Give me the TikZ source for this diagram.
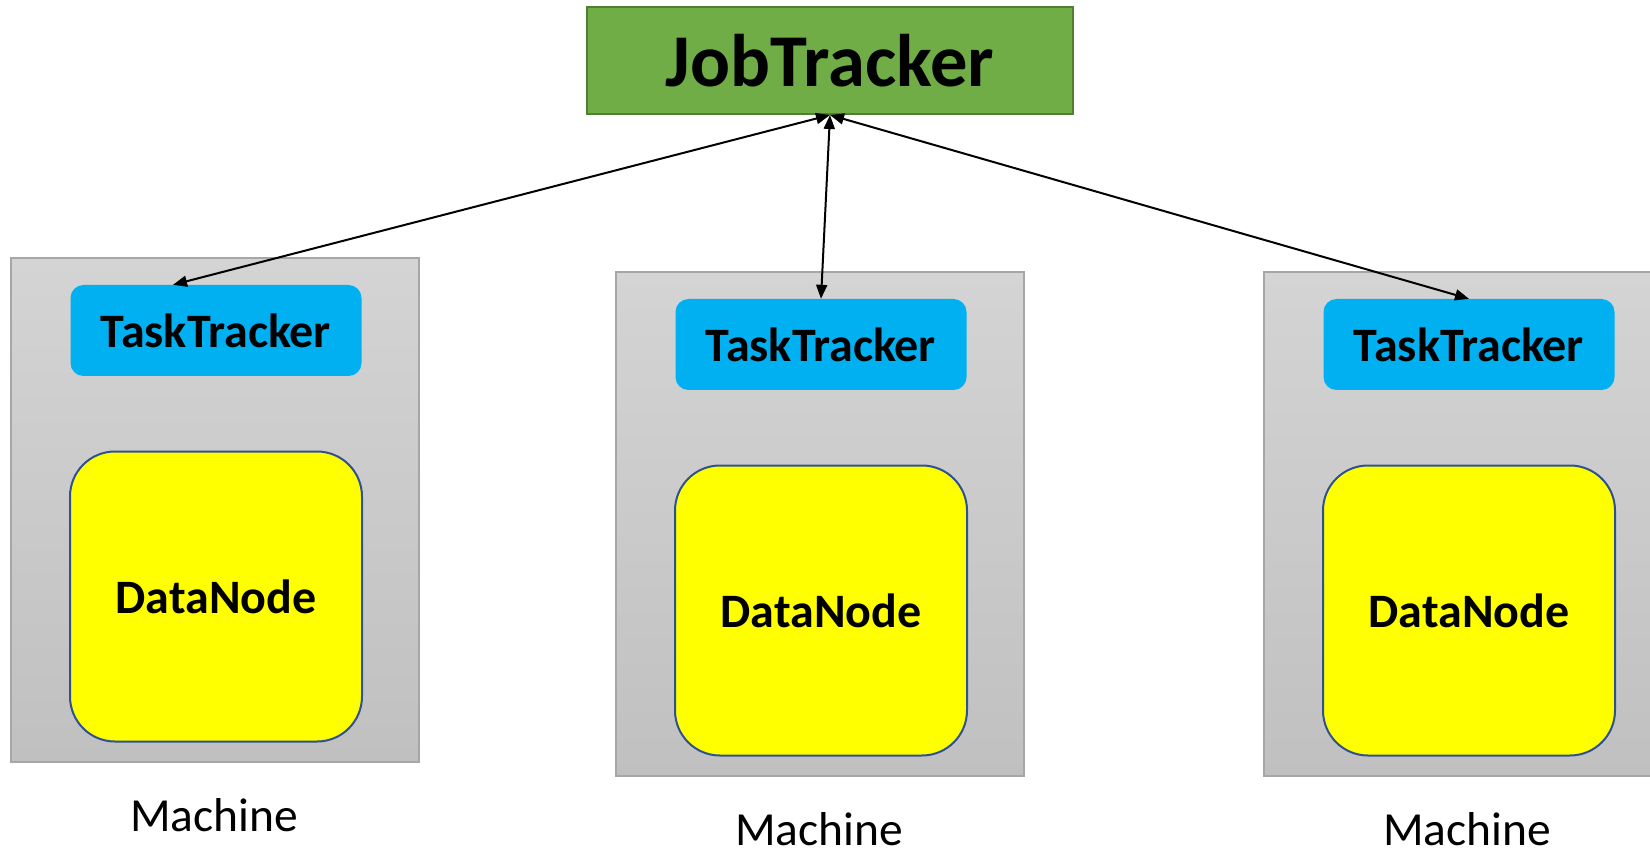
\documentclass[tikz,border=0pt]{standalone}
\usepackage{fontspec}
\setmainfont{Carlito}
\usepackage{tikz}
\usetikzlibrary{arrows.meta, calc}

\definecolor{jtgreen}{HTML}{70AD47}
\definecolor{jtframe}{HTML}{507E32}
\definecolor{ttblue}{HTML}{00B0F0}
\definecolor{dnyellow}{RGB}{255,255,0}
\definecolor{dnframe}{HTML}{2F528F}
\definecolor{mtop}{HTML}{D4D4D4}
\definecolor{mbot}{HTML}{C0C0C0}
\definecolor{mframe}{HTML}{A6A6A6}

\begin{document}
\begin{tikzpicture}[x=1pt,y=-1pt,>={Triangle[length=14pt,width=11pt]},
		machine/.style={rectangle,draw=mframe,line width=1.5pt,top color=mtop,bottom color=mbot,minimum width=408pt,minimum height=504pt,inner sep=0pt},
		tracker/.style={rectangle,rounded corners=13pt,fill=ttblue,minimum width=291pt,minimum height=91pt,inner sep=0pt,font=\fontsize{48}{52}\selectfont\bfseries},
		datanode/.style={rectangle,rounded corners=45pt,draw=dnframe,line width=2pt,fill=dnyellow,minimum width=292pt,minimum height=290pt,inner sep=0pt,font=\fontsize{48}{52}\selectfont\bfseries},
		caption/.style={anchor=base,inner sep=0pt,font=\fontsize{47.5}{52}\selectfont}]
		% JobTracker talking to the TaskTracker on each machine
		\useasboundingbox (0,0) rectangle (1650,850);
		\node[rectangle,draw=jtframe,line width=2pt,fill=jtgreen,minimum width=486pt,minimum height=107pt,font=\fontsize{74.5}{80}\selectfont\bfseries] (jt) at (830,60.5) {JobTracker};
		\foreach \i/\x/\dy in {1/215/0,2/820/14,3/1468/14}{
			\node[machine] (m\i) at (\x,510+\dy) {};
			\node[tracker] (tt\i) at (\x+1,330.5+\dy) {TaskTracker};
			\node[datanode] (dn\i) at (\x+1,596.5+\dy) {DataNode};
			\node[caption] (lab\i) at (\x-1,831+\dy) {Machine};
		}
		\draw[<->,line width=2pt] (jt.south) -- ([xshift=-43pt]tt1.north);
		\draw[<->,line width=2pt] (jt.south) -- (tt2.north);
		\draw[<->,line width=2pt] (jt.south) -- (tt3.north);
	\end{tikzpicture}
\end{document}
